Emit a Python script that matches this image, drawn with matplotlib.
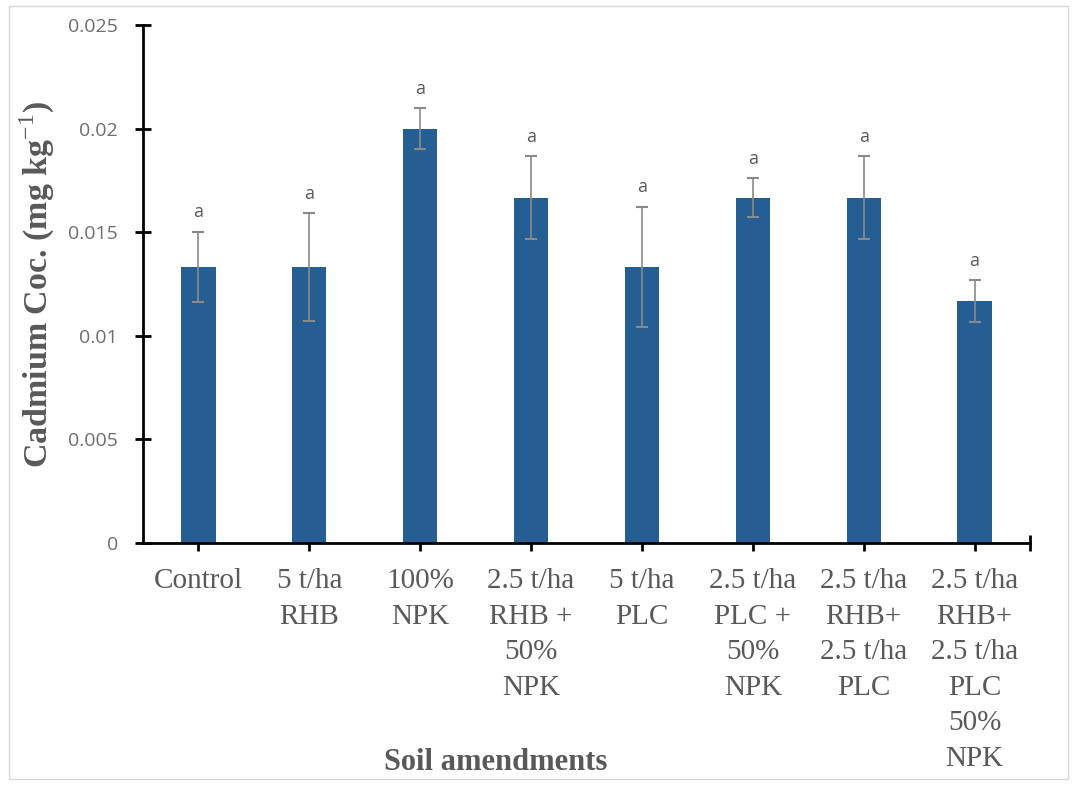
import matplotlib
matplotlib.use("Agg")
import matplotlib.pyplot as plt
from matplotlib.patches import Rectangle

plt.rcParams["mathtext.fontset"] = "custom"
plt.rcParams["mathtext.rm"] = "Liberation Serif"
plt.rcParams["mathtext.bf"] = "Liberation Serif:bold"

categories = ["Control", "5 t/ha\nRHB", "100%\nNPK", "2.5 t/ha\nRHB +\n50%\nNPK", "5 t/ha\nPLC",
              "2.5 t/ha\nPLC +\n50%\nNPK", "2.5 t/ha\nRHB+\n2.5 t/ha\nPLC",
              "2.5 t/ha\nRHB+\n2.5 t/ha\nPLC\n50%\nNPK"]
values = [0.01333, 0.01333, 0.0200, 0.01667, 0.01333, 0.01667, 0.01667, 0.01167]
errors = [0.0017, 0.0026, 0.0010, 0.0020, 0.0029, 0.00095, 0.0020, 0.0010]
letters = ["a"] * 8
yticks = [0, 0.005, 0.01, 0.015, 0.02, 0.025]
ytick_labels = ["0", "0.005", "0.01", "0.015", "0.02", "0.025"]

fig = plt.figure(figsize=(10.77, 7.85), dpi=100)
ax = fig.add_axes([143/1077, 1 - 543/785, (1030-143)/1077, (543-25)/785])

x = list(range(len(categories)))
ax.bar(x, values, width=0.31, color="#255e93", zorder=2)
ax.errorbar(x, values, yerr=errors, fmt="none", ecolor="#8a8a8a", elinewidth=1.2,
            capsize=4, capthick=1.5, zorder=3)
for xi, v, e, l in zip(x, values, errors, letters):
    ax.text(xi, v + e + 0.0005, l, ha="center", va="bottom", fontsize=13,
            color="#595959", family="Open Sans")

ax.set_xlim(-0.5, 7.5)
ax.set_ylim(0, 0.025)
ax.set_yticks(yticks)
ax.set_yticklabels(ytick_labels, fontsize=14, color="#6e6e6e", family="Open Sans")
ax.set_xticks(x)
ax.set_xticklabels(categories, fontsize=21, color="#595959", family="Liberation Serif",
                   linespacing=1.48, va="top")
ax.set_xticks([7.5], minor=True)
ax.tick_params(axis="both", which="both", direction="inout", length=12, width=2, color="black")
ax.tick_params(axis="y", pad=12)
ax.tick_params(axis="x", pad=12)
for s in ["top", "right"]:
    ax.spines[s].set_visible(False)
for s in ["left", "bottom"]:
    ax.spines[s].set_linewidth(2)
    ax.spines[s].set_color("black")

ax.set_ylabel("Cadmium Coc. (mg kg$^{\\mathrm{-1}}$)", fontsize=24.5, fontweight="bold",
              family="Liberation Serif", color="#595959", labelpad=8)
fig.text(496/1077, 1 - 763/785, "Soil amendments", ha="center", va="center", fontsize=22,
         fontweight="bold", family="Liberation Serif", color="#595959")

fig.patches.append(Rectangle((0.008, 0.008), 0.984, 0.984, transform=fig.transFigure,
                             fill=False, edgecolor="#d9d9d9", linewidth=1))

fig.savefig("out.png", dpi=100)
